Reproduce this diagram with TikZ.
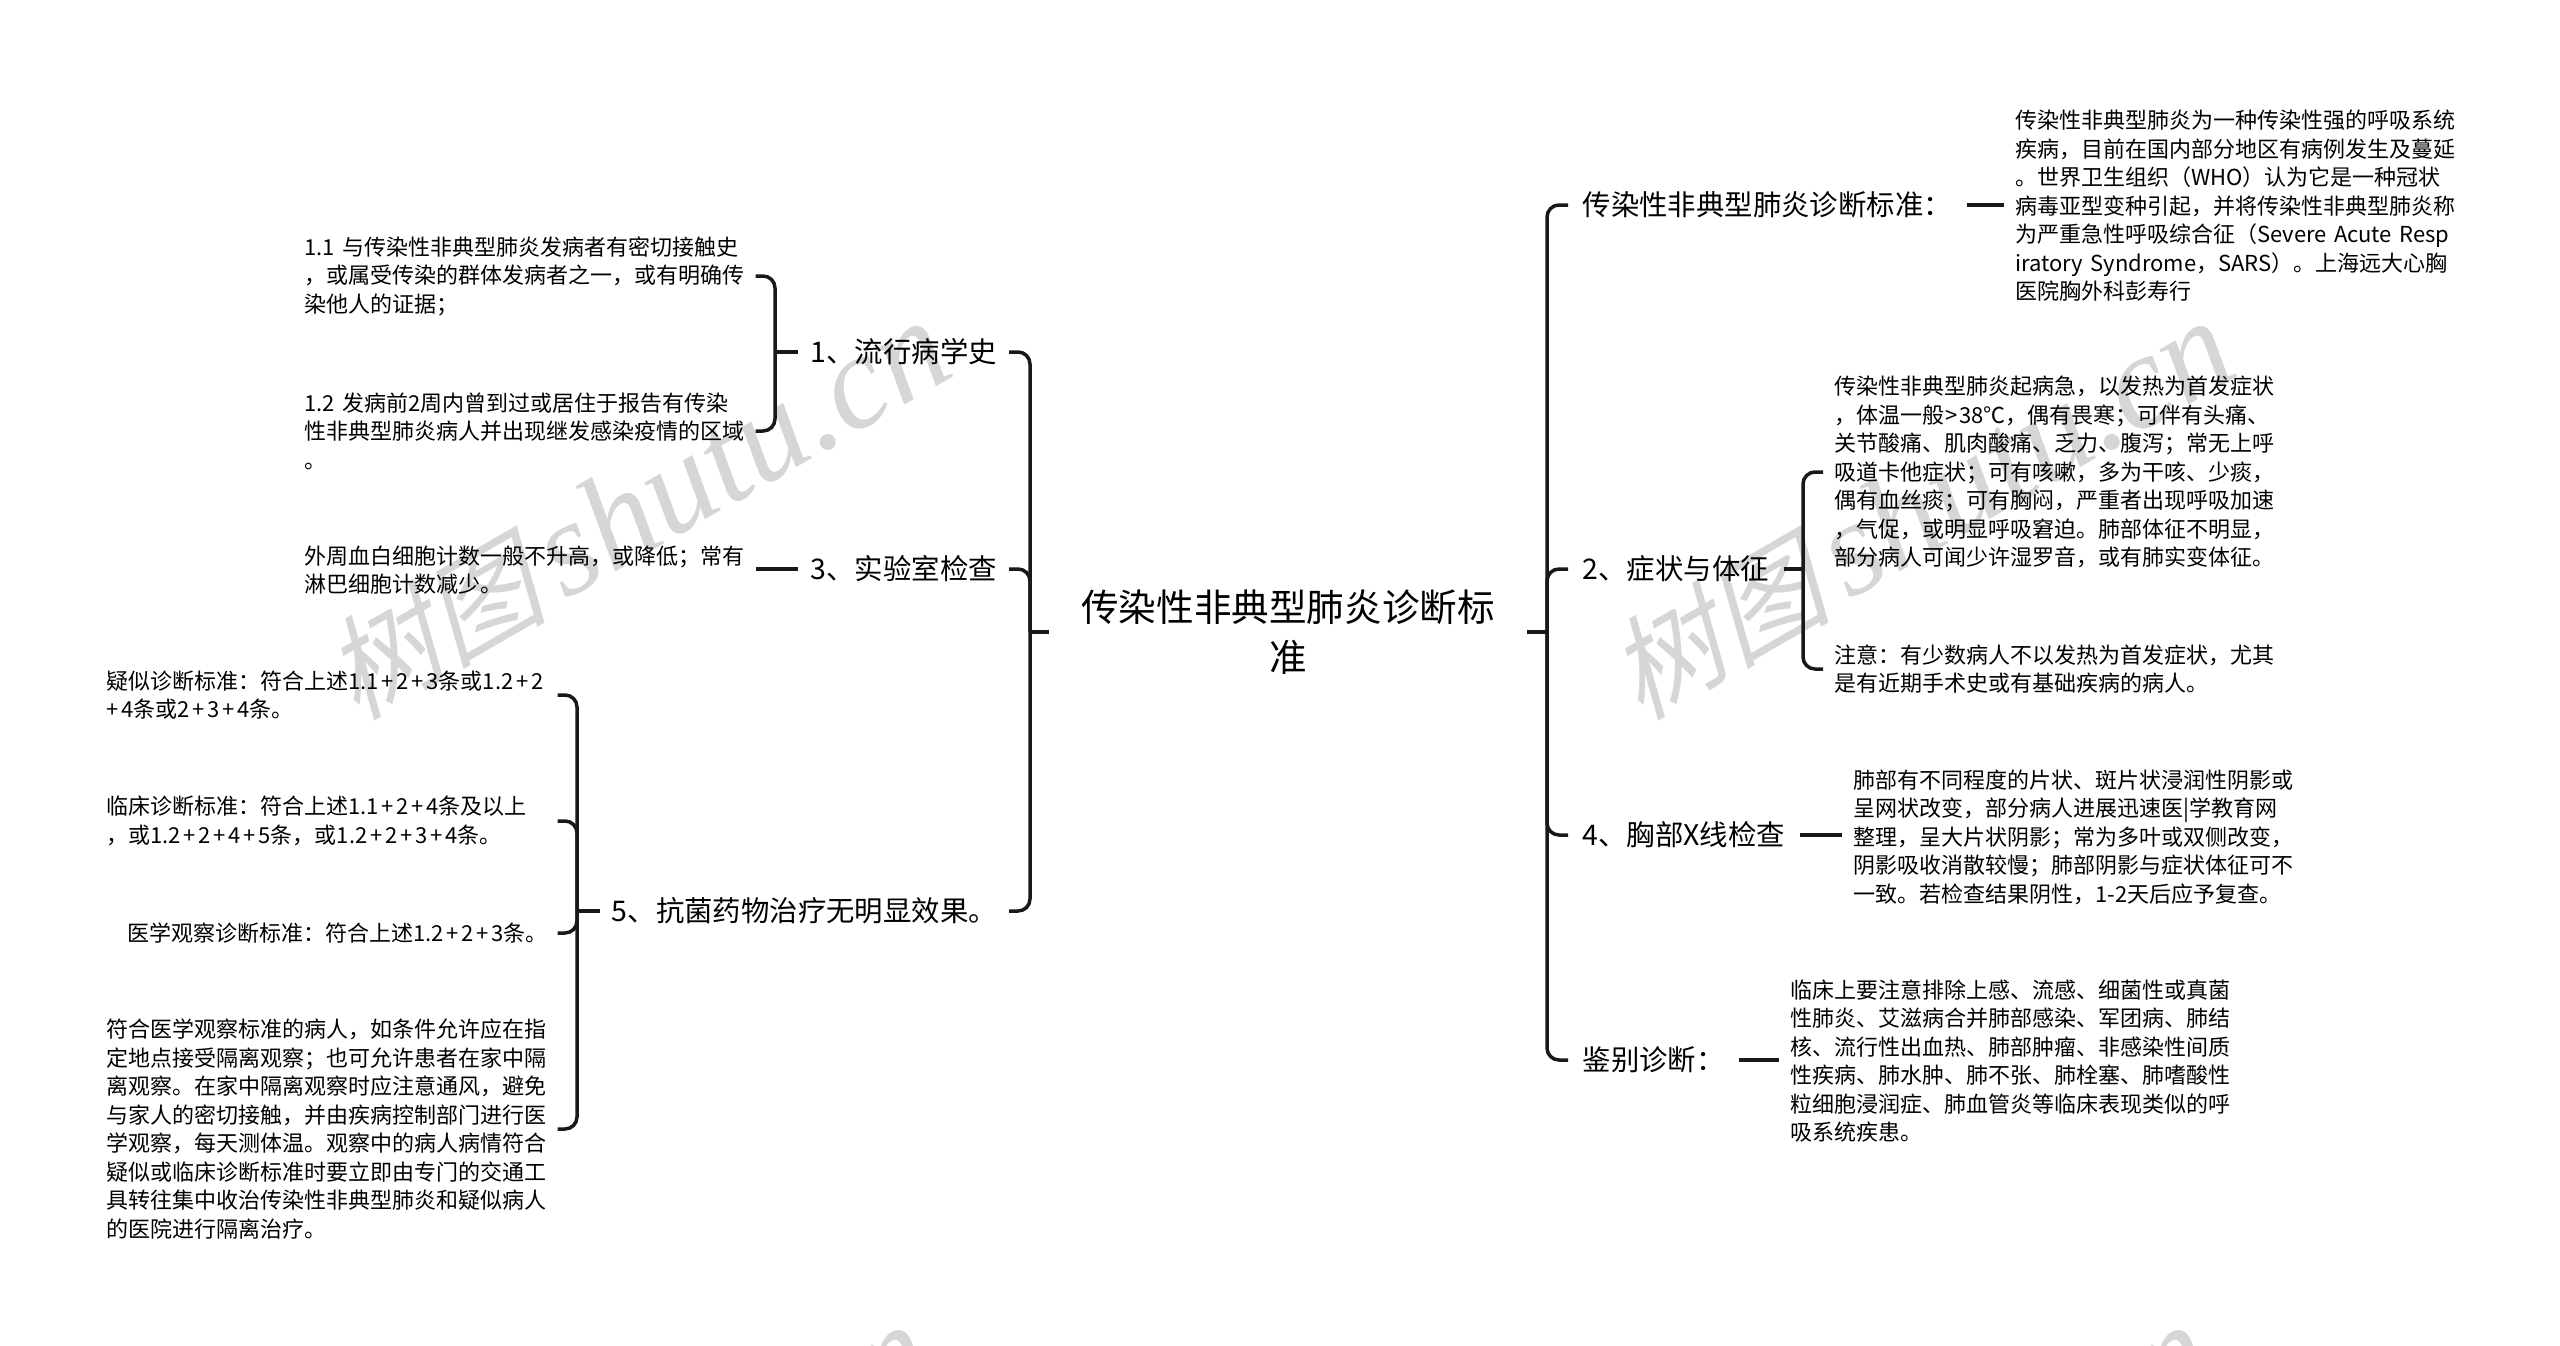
\documentclass[tikz,border=0pt]{standalone}
\usepackage{fontspec}
\setmainfont{Noto Sans CJK SC}
\newfontfamily\wmcjk[FakeSlant=0.25]{Noto Sans CJK SC}
\newfontfamily\wmlatin{Liberation Serif}
\newcommand{\pl}{\kern2.8pt+\kern2.8pt}
\newcommand{\wmtext}{{\fontsize{112}{112}\selectfont\wmcjk 树图}\hspace{18pt}{\fontsize{135}{135}\selectfont\wmlatin\itshape shutu.cn}}
\tikzset{
  rootnode/.style={minimum width=478pt,inner xsep=0pt,align=center,font=\fontsize{37.6}{50}\selectfont},
  topic/.style={inner xsep=14.5pt,inner ysep=2pt,font=\fontsize{28.4}{34}\selectfont},
  ltopic/.style={topic,anchor=east,inner xsep=12pt},
  leaf/.style={text width=440pt,inner xsep=11pt,inner ysep=0pt,align=left,font=\fontsize{22}{28.5}\selectfont},
  link/.style={line width=3.5pt,color=black!90},
  branch/.style={link,rounded corners=12pt},
  wmark/.style={anchor=base west,rotate=30,inner sep=0pt,text=black!16}
}
\begin{document}
\begin{tikzpicture}[x=1pt,y=-1pt]
  \useasboundingbox (0,0) rectangle (2560,1346);
  \node[wmark] (wm1) at (356,722) {\wmtext};
  \node[wmark] (wm2) at (1640,722) {\wmtext};
  \node[wmark] (wm3) at (338,1726) {\wmtext};
  \node[wmark] (wm4) at (1618,1726) {\wmtext};

  \node[rootnode] (root) at (1288,632) {传染性非典型肺炎诊断标\\准};
  \coordinate (rootL) at (1030,632);
  \coordinate (rootR) at (1547,632);

  \node[ltopic] (n1) at (1009,352) {1、流行病学史};
  \node[ltopic] (n3) at (1009,569) {3、实验室检查};
  \node[ltopic] (n5) at (1009,911) {5、抗菌药物治疗无明显效果。};
  \node[topic,anchor=west] (m0) at (1568,205) {传染性非典型肺炎诊断标准：};
  \node[topic,anchor=west] (m2) at (1568,569) {2、症状与体征};
  \node[topic,anchor=west] (m4) at (1568,835) {4、胸部X线检查};
  \node[topic,anchor=west] (m6) at (1568,1060) {鉴别诊断：};

  \coordinate (j1) at (775,352);
  \coordinate (j5) at (577,911);
  \coordinate (j2) at (1803,569);

  \node[leaf,anchor=east] (a1) at (755.5,276) {1.1 与传染性非典型肺炎发病者有密切接触史\\，或属受传染的群体发病者之一，或有明确传\\染他人的证据；};
  \node[leaf,anchor=east] (a2) at (755.5,431) {1.2 发病前2周内曾到过或居住于报告有传染\\性非典型肺炎病人并出现继发感染疫情的区域\\。};
  \node[leaf,anchor=east] (b1) at (755.5,570) {外周血白细胞计数一般不升高，或降低；常有\\淋巴细胞计数减少。};
  \node[leaf,anchor=east] (c1) at (557.5,695) {疑似诊断标准：符合上述1.1\pl 2\pl 3条或1.2\pl 2\\+\kern2.8pt 4条或2\pl 3\pl 4条。};
  \node[leaf,anchor=east] (c2) at (557.5,821) {临床诊断标准：符合上述1.1\pl 2\pl 4条及以上\\，或1.2\pl 2\pl 4\pl 5条，或1.2\pl 2\pl 3\pl 4条。};
  \node[leaf,anchor=east] (c3) at (557.5,933) {\hspace*{21pt}医学观察诊断标准：符合上述1.2\pl 2\pl 3条。};
  \node[leaf,anchor=east] (c4) at (557.5,1129) {符合医学观察标准的病人，如条件允许应在指\\定地点接受隔离观察；也可允许患者在家中隔\\离观察。在家中隔离观察时应注意通风，避免\\与家人的密切接触，并由疾病控制部门进行医\\学观察，每天测体温。观察中的病人病情符合\\疑似或临床诊断标准时要立即由专门的交通工\\具转往集中收治传染性非典型肺炎和疑似病人\\的医院进行隔离治疗。};

  \node[leaf,anchor=west] (d1) at (2004,206) {传染性非典型肺炎为一种传染性强的呼吸系统\\疾病，目前在国内部分地区有病例发生及蔓延\\。世界卫生组织（WHO）认为它是一种冠状\\病毒亚型变种引起，并将传染性非典型肺炎称\\为严重急性呼吸综合征（Severe Acute Resp\\iratory Syndrome，SARS）。上海远大心胸\\医院胸外科彭寿行};
  \node[leaf,anchor=west] (e1) at (1823,472) {传染性非典型肺炎起病急，以发热为首发症状\\，体温一般\kern1.5pt>\kern1.5pt 38℃，偶有畏寒；可伴有头痛、\\关节酸痛、肌肉酸痛、乏力、腹泻；常无上呼\\吸道卡他症状；可有咳嗽，多为干咳、少痰，\\偶有血丝痰；可有胸闷，严重者出现呼吸加速\\，气促，或明显呼吸窘迫。肺部体征不明显，\\部分病人可闻少许湿罗音，或有肺实变体征。};
  \node[leaf,anchor=west] (e2) at (1823,669) {注意：有少数病人不以发热为首发症状，尤其\\是有近期手术史或有基础疾病的病人。};
  \node[leaf,anchor=west] (f1) at (1842,837) {肺部有不同程度的片状、斑片状浸润性阴影或\\呈网状改变，部分病人进展迅速医|学教育网\\整理，呈大片状阴影；常为多叶或双侧改变，\\阴影吸收消散较慢；肺部阴影与症状体征可不\\一致。若检查结果阴性，1-2天后应予复查。};
  \node[leaf,anchor=west] (g1) at (1779,1061) {临床上要注意排除上感、流感、细菌性或真菌\\性肺炎、艾滋病合并肺部感染、军团病、肺结\\核、流行性出血热、肺部肿瘤、非感染性间质\\性疾病、肺水肿、肺不张、肺栓塞、肺嗜酸性\\粒细胞浸润症、肺血管炎等临床表现类似的呼\\吸系统疾患。};

  \draw[link] (root.west) -- (rootL);
  \draw[link] (root.east) -- (rootR);
  \foreach \t in {n1,n3,n5}
    \draw[branch] (rootL) |- (\t.east);
  \foreach \t in {m0,m2,m4,m6}
    \draw[branch] (rootR) |- (\t.west);

  \draw[link] (n1.west) -- (j1);
  \draw[link] (n5.west) -- (j5);
  \draw[link] (m2.east) -- (j2);
  \foreach \t in {a1,a2}
    \draw[branch] (j1) |- (\t.east);
  \foreach \t in {c1,c2,c3,c4}
    \draw[branch] (j5) |- (\t.east);
  \foreach \t in {e1,e2}
    \draw[branch] (j2) |- (\t.west);

  \draw[link] (n3.west) -- (n3.west -| b1.east);
  \draw[link] (m0.east) -- (m0.east -| d1.west);
  \draw[link] (m4.east) -- (m4.east -| f1.west);
  \draw[link] (m6.east) -- (m6.east -| g1.west);
\end{tikzpicture}
\end{document}
